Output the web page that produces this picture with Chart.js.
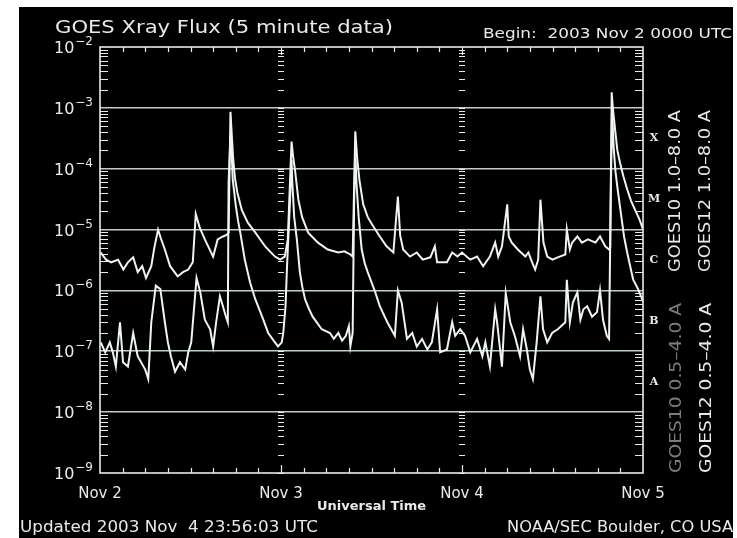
<!DOCTYPE html>
<html>
<head>
<meta charset="utf-8">
<script src="https://cdn.jsdelivr.net/npm/chart.js@4.4.1/dist/chart.umd.min.js"></script>
<style>
  html, body { margin: 0; padding: 0; background: #fff; }
  canvas { display: block; }
</style>
</head>
<body>
<canvas id="goes" width="737" height="538"></canvas>
<script>
/* =====================
   DATA  (hours since 2003 Nov 2 0000 UTC, flux in W m^-2)
===================== */
const longHours = [0.1, 0.8, 1.5, 2.4, 3.1, 3.7, 4.4, 5.0, 5.6, 6.1, 6.8, 7.2, 7.7, 8.1, 8.6, 9.3, 10.3, 11.0, 11.7, 12.3,
  12.7, 13.2, 13.9, 15.0, 15.6, 16.3, 16.8, 17.05, 17.3, 17.45, 17.65, 17.9, 18.2, 18.8, 19.6, 20.6, 21.2, 21.9, 22.6, 23.2,
  23.9, 24.5, 24.9, 25.4, 25.6, 25.86, 26.3, 26.8, 27.6, 28.9, 30.2, 31.6, 32.4, 33.2, 33.5, 33.85, 34.1, 34.4, 34.9, 35.5,
  36.1, 37.1, 38.0, 38.9, 39.5, 39.8, 40.2, 41.1, 42.0, 42.8, 43.8, 44.4, 44.7, 46.0, 46.7, 47.4, 48.0, 49.1, 50.0, 50.8,
  51.7, 52.4, 52.8, 53.3, 54.0, 54.2, 54.6, 55.4, 56.4, 56.8, 57.3, 57.7, 58.1, 58.4, 58.8, 59.3, 60.0, 60.7, 61.7, 61.9,
  62.3, 62.6, 63.3, 63.9, 64.7, 65.7, 66.3, 67.0, 67.5, 67.65, 67.85, 68.0, 68.3, 68.6, 68.95, 69.4, 69.9, 70.4, 70.95, 71.5,
  71.9, 72.0];
const longFlux = [4.2e-6, 3.2e-6, 2.9e-6, 3.2e-6, 2.2e-6, 2.9e-6, 3.5e-6, 2.0e-6, 2.5e-6, 1.6e-6, 2.5e-6, 5.0e-6, 1.0e-5, 7.0e-6, 4.7e-6, 2.5e-6, 1.7e-6, 2.0e-6, 2.2e-6, 2.9e-6,
  1.8e-5, 1.1e-5, 6.9e-6, 3.6e-6, 6.9e-6, 7.7e-6, 8.2e-6, 8.9e-6, 8.6e-4, 4.0e-4, 1.5e-4, 7.0e-5, 4.1e-5, 2.1e-5, 1.3e-5, 8.9e-6, 7.0e-6, 5.3e-6, 4.3e-6, 3.6e-6,
  3.2e-6, 3.6e-6, 6.9e-6, 2.8e-4, 1.6e-4, 9.5e-5, 3.1e-5, 1.6e-5, 8.9e-6, 6.1e-6, 4.7e-6, 4.2e-6, 4.4e-6, 3.9e-6, 3.6e-6, 4.1e-4, 1.5e-4, 6.5e-5, 2.6e-5, 1.6e-5,
  1.2e-5, 7.7e-6, 5.3e-6, 4.2e-6, 3.5e-5, 8.0e-6, 4.7e-6, 3.6e-6, 4.2e-6, 3.2e-6, 3.5e-6, 5.3e-6, 2.9e-6, 2.9e-6, 4.2e-6, 3.6e-6, 4.2e-6, 3.2e-6, 3.6e-6, 2.5e-6,
  3.6e-6, 6.1e-6, 3.6e-6, 5.3e-6, 2.6e-5, 7.7e-6, 6.1e-6, 4.7e-6, 3.6e-6, 4.2e-6, 2.9e-6, 2.2e-6, 3.2e-6, 3.1e-5, 6.1e-6, 3.6e-6, 3.2e-6, 3.5e-6, 3.9e-6, 1.0e-5,
  4.7e-6, 6.1e-6, 7.7e-6, 6.1e-6, 6.9e-6, 6.1e-6, 7.7e-6, 5.3e-6, 4.7e-6, 5.0e-6, 1.8e-3, 1.0e-3, 4.4e-4, 2.0e-4, 1.25e-4, 7.5e-5, 4.6e-5, 3.0e-5, 2.1e-5, 1.5e-5,
  1.1e-5, 1.0e-5];

const shortHours = [0.1, 0.7, 1.3, 1.7, 2.1, 2.65, 3.05, 3.7, 4.4, 5.0, 6.0, 6.4, 6.8, 7.4, 8.0, 8.6, 9.0, 9.4, 9.95, 10.6,
  11.3, 11.7, 12.1, 12.6, 12.8, 13.3, 13.9, 14.6, 15.0, 15.4, 15.9, 16.3, 16.7, 16.95, 17.05, 17.3, 17.45, 17.6, 18.0, 18.3,
  18.6, 19.2, 19.9, 20.6, 21.5, 22.3, 23.2, 23.6, 24.1, 24.3, 24.6, 24.8, 25.2, 25.4, 25.5, 25.75, 26.1, 26.5, 26.85, 27.2,
  27.7, 28.2, 29.4, 30.5, 31.0, 31.6, 32.1, 32.6, 33.0, 33.2, 33.5, 33.7, 33.85, 34.0, 34.3, 34.7, 35.1, 35.5, 36.5, 37.1,
  38.1, 39.1, 39.5, 40.0, 40.7, 41.4, 42.0, 42.7, 43.4, 44.0, 44.7, 45.1, 46.0, 46.7, 47.1, 47.75, 48.4, 49.1, 50.0, 50.7,
  51.1, 51.7, 52.4, 52.65, 53.3, 53.8, 54.4, 55.0, 55.7, 56.1, 56.6, 57.0, 57.4, 57.9, 58.4, 58.75, 59.3, 59.95, 60.7, 61.7,
  61.9, 62.3, 62.7, 63.3, 63.7, 64.1, 64.6, 65.25, 65.9, 66.3, 66.7, 67.2, 67.5, 67.7, 67.9, 68.1, 68.35, 68.6, 69.2, 69.5,
  69.9, 70.3, 70.7, 71.35, 71.9, 72.0];
const shortFlux = [1.4e-7, 9.6e-8, 1.4e-7, 9.6e-8, 5.6e-8, 3.0e-7, 6.6e-8, 5.6e-8, 2.0e-7, 8.3e-8, 5.0e-8, 3.5e-8, 3.0e-7, 1.2e-6, 1.05e-6, 3.0e-7, 1.4e-7, 8.3e-8, 4.6e-8, 6.6e-8,
  5.0e-8, 9.6e-8, 1.4e-7, 8.0e-7, 1.6e-6, 9.3e-7, 3.3e-7, 2.3e-7, 1.2e-7, 3.0e-7, 8.0e-7, 5.5e-7, 3.7e-7, 3.0e-7, 6.0e-5, 3.5e-4, 2.0e-4, 6.6e-5, 2.5e-5, 1.4e-5,
  8.9e-6, 3.2e-6, 1.35e-6, 7.1e-7, 3.7e-7, 2.0e-7, 1.4e-7, 1.2e-7, 1.4e-7, 2.0e-7, 5.5e-7, 2.5e-6, 3.1e-5, 1.4e-4, 6.0e-5, 1.6e-5, 6.9e-6, 2.0e-6, 1.1e-6, 7.1e-7,
  5.0e-7, 3.7e-7, 2.3e-7, 2.0e-7, 1.6e-7, 2.0e-7, 1.5e-7, 1.8e-7, 2.6e-7, 1.2e-7, 2.0e-7, 3.0e-5, 2.0e-4, 6.0e-5, 1.6e-5, 4.7e-6, 2.8e-6, 2.0e-6, 9.3e-7, 5.5e-7,
  3.0e-7, 1.8e-7, 1.0e-6, 6.3e-7, 1.6e-7, 2.0e-7, 1.2e-7, 1.6e-7, 1.07e-7, 1.4e-7, 4.9e-7, 9.6e-8, 1.07e-7, 3.0e-7, 1.8e-7, 2.3e-7, 1.8e-7, 9.6e-8, 1.6e-7, 8.3e-8,
  1.4e-7, 5.6e-8, 4.9e-7, 3.0e-7, 5.6e-8, 9.0e-7, 3.0e-7, 1.8e-7, 8.3e-8, 2.3e-7, 1.07e-7, 5.0e-8, 3.5e-8, 1.4e-7, 8.0e-7, 2.3e-7, 1.4e-7, 2.0e-7, 2.3e-7, 3.0e-7,
  1.5e-6, 3.0e-7, 6.3e-7, 9.3e-7, 3.3e-7, 4.9e-7, 5.5e-7, 3.7e-7, 4.4e-7, 1.0e-6, 3.3e-7, 1.8e-7, 1.6e-7, 2.0e-5, 1.0e-3, 2.3e-4, 9.0e-5, 5.0e-5, 1.4e-5, 7.5e-6,
  4.2e-6, 2.5e-6, 1.5e-6, 1.05e-6, 7.1e-7, 6.5e-7];

const dayTicks = [0, 24, 48, 72];
const dayLabels = ["Nov 2", "Nov 3", "Nov 4", "Nov 5"];
const decades = [-9, -8, -7, -6, -5, -4, -3, -2];
const flareClasses = ["A", "B", "C", "M", "X"];
const flareLevels = [1e-8, 1e-7, 1e-6, 1e-5, 1e-4];

/* =====================
   STYLE
===================== */
const FG = "#e6ece9";
const GRID = "#bfcec7";
const LINE = "#eef4f1";
const FONT = '"DejaVu Sans", sans-serif';

Chart.defaults.font.family = FONT;

// draw text squeezed/stretched to a given width
function fitText(ctx, text, x, y, w) {
  const m = ctx.measureText(text).width;
  ctx.save();
  ctx.translate(x, y);
  ctx.scale(w / m, 1);
  ctx.fillText(text, 0, 0);
  ctx.restore();
}

const decor = {
  id: "decor",
  beforeDraw(chart) {
    const ctx = chart.ctx;
    ctx.save();
    ctx.fillStyle = "#fff";
    ctx.fillRect(0, 0, chart.width, chart.height);
    ctx.fillStyle = "#000";
    ctx.fillRect(19, 7, chart.width - 23, chart.height - 7);
    ctx.restore();
  },
  afterDraw(chart) {
    const { ctx, chartArea: a, scales: { x, y } } = chart;
    ctx.save();

    // frame
    ctx.strokeStyle = FG;
    ctx.lineWidth = 1.6;
    ctx.strokeRect(a.left, a.top, a.right - a.left, a.bottom - a.top);

    // log minor ticks on both y axes + dotted day columns
    ctx.lineWidth = 1.2;
    ctx.beginPath();
    for (let d = -9; d < -2; d++) {
      for (let m = 1; m < 10; m++) {
        const py = Math.round(y.getPixelForValue(m * 10 ** d)) + 0.5;
        if (m > 1) {
          ctx.moveTo(a.left, py); ctx.lineTo(a.left + 8, py);
          ctx.moveTo(a.right, py); ctx.lineTo(a.right - 8, py);
        }
        [24, 48].forEach(h => {
          const px = x.getPixelForValue(h);
          ctx.moveTo(px - 3, py); ctx.lineTo(px + 3, py);
        });
      }
    }
    // 3-hour ticks top and bottom
    for (let h = 3; h < 72; h += 3) {
      const px = Math.round(x.getPixelForValue(h)) + 0.5;
      const len = h % 24 === 0 ? 8 : 5;
      ctx.moveTo(px, a.bottom); ctx.lineTo(px, a.bottom - len);
      ctx.moveTo(px, a.top); ctx.lineTo(px, a.top + len);
    }
    ctx.stroke();

    // y labels 10^n
    ctx.fillStyle = FG;
    ctx.textAlign = "right";
    ctx.textBaseline = "alphabetic";
    decades.forEach(d => {
      const py = y.getPixelForValue(10 ** d);
      const exp = "\u2212" + Math.abs(d);
      ctx.font = "12px " + FONT;
      const ew = ctx.measureText(exp).width;
      ctx.fillText(exp, a.left - 7, py - 2);
      ctx.font = "16px " + FONT;
      ctx.fillText("10", a.left - 8 - ew, py + 6);
    });

    // flare classes
    ctx.textAlign = "center";
    ctx.textBaseline = "middle";
    ctx.font = 'bold 11px "DejaVu Serif", serif';
    flareClasses.forEach((c, i) => {
      ctx.fillText(c, a.right + 11, y.getPixelForValue(flareLevels[i] * Math.sqrt(10)));
    });

    // titles
    ctx.textAlign = "left";
    ctx.textBaseline = "alphabetic";
    ctx.font = "17px " + FONT;
    fitText(ctx, "GOES Xray Flux (5 minute data)", 55, 33, 338);
    ctx.font = "14px " + FONT;
    fitText(ctx, "Begin:  2003 Nov 2 0000 UTC", 483, 38, 249);
    ctx.font = "15px " + FONT;
    fitText(ctx, "Updated 2003 Nov  4 23:56:03 UTC", 20, 532, 298);
    fitText(ctx, "NOAA/SEC Boulder, CO USA", 507, 532, 226);

    // rotated channel legends
    ctx.font = "15px " + FONT;
    ctx.textBaseline = "middle";
    const legends = [
      ["GOES10 1.0\u20138.0 A", 676, 272, 162, FG],
      ["GOES12 1.0\u20138.0 A", 706, 272, 162, FG],
      ["GOES10 0.5\u20134.0 A", 677, 473, 170, "#7d7d7d"],
      ["GOES12 0.5\u20134.0 A", 707, 473, 170, FG]
    ];
    legends.forEach(([t, cx, yb, len, col]) => {
      ctx.save();
      ctx.fillStyle = col;
      ctx.translate(cx, yb);
      ctx.rotate(-Math.PI / 2);
      fitText(ctx, t, 0, 0, len);
      ctx.restore();
    });

    ctx.restore();
  }
};

const toPoints = (hs, vs) => hs.map((h, i) => ({ x: h, y: vs[i] }));

new Chart(document.getElementById("goes"), {
  type: "line",
  data: {
    datasets: [
      {
        label: "GOES12 1.0-8.0 A",
        data: toPoints(longHours, longFlux),
        borderColor: LINE,
        borderWidth: 2,
        pointRadius: 0,
        tension: 0
      },
      {
        label: "GOES12 0.5-4.0 A",
        data: toPoints(shortHours, shortFlux),
        borderColor: LINE,
        borderWidth: 2,
        pointRadius: 0,
        tension: 0
      }
    ]
  },
  options: {
    responsive: false,
    animation: false,
    devicePixelRatio: 1,
    layout: { padding: { left: 100, top: 47, right: 94, bottom: 23 } },
    plugins: { legend: { display: false }, tooltip: { enabled: false } },
    scales: {
      x: {
        type: "linear",
        min: 0,
        max: 72,
        afterBuildTicks: s => { s.ticks = dayTicks.map(v => ({ value: v })); },
        afterFit: s => { s.height = 42; },
        grid: { display: false },
        border: { display: false },
        ticks: {
          autoSkip: false,
          maxRotation: 0,
          padding: 4,
          color: FG,
          font: { size: 15 },
          callback: v => dayLabels[dayTicks.indexOf(v)]
        },
        title: {
          display: true,
          text: "Universal Time",
          color: FG,
          font: { size: 13, weight: "bold" },
          padding: { top: 0, bottom: 1 }
        }
      },
      y: {
        type: "logarithmic",
        min: 1e-9,
        max: 1e-2,
        afterBuildTicks: s => { s.ticks = decades.map(d => ({ value: 10 ** d })); },
        afterFit: s => { s.width = 0; },
        border: { display: false },
        grid: {
          drawTicks: false,
          lineWidth: 1.6,
          color: c => (c.tick && (c.tick.value <= 1.01e-9 || c.tick.value >= 0.99e-2)) ? "rgba(0,0,0,0)" : GRID
        },
        ticks: { display: false }
      }
    }
  },
  plugins: [decor]
});
</script>
</body>
</html>
